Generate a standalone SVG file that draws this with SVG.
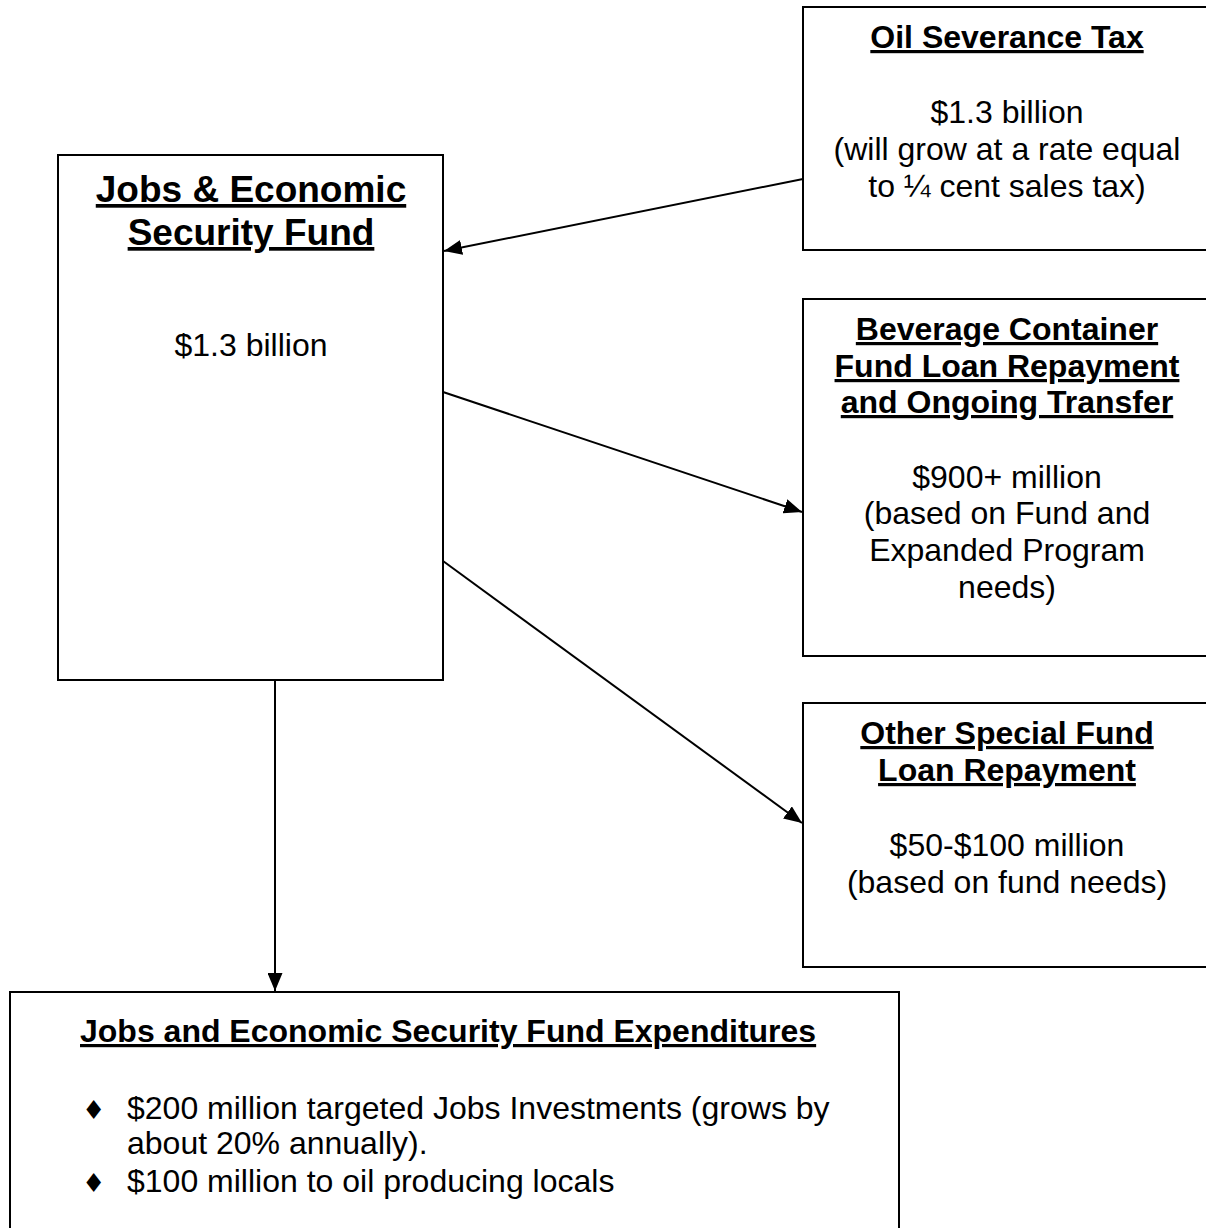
<svg xmlns="http://www.w3.org/2000/svg" width="1206" height="1228" viewBox="0 0 1206 1228">
<defs>
<style>
.box{fill:#fff;stroke:#000;stroke-width:2}
.t{font-family:"Liberation Sans",Arial,sans-serif;font-size:32px;fill:#000;text-anchor:middle}
.h{font-weight:bold;text-decoration:underline}
.big{font-size:37px}
.l{text-anchor:start}
.conn{stroke:#000;stroke-width:2;fill:none;marker-end:url(#arr)}
.bul{font-family:"DejaVu Sans",sans-serif;font-size:26px;fill:#000}
</style>
<marker id="arr" markerUnits="userSpaceOnUse" markerWidth="19" markerHeight="15" refX="18" refY="7.5" orient="auto">
<path d="M0,0 L18,7.5 L0,15 z" fill="#000"/>
</marker>
</defs>
<rect width="1206" height="1228" fill="#fff"/>
<g id="oil">
<rect class="box" x="803" y="7" width="420" height="243"/>
<text class="t h" x="1007" y="48">Oil Severance Tax</text>
<text class="t" x="1007" y="123">$1.3 billion</text>
<text class="t" x="1007" y="160">(will grow at a rate equal</text>
<text class="t" x="1007" y="197">to ¼ cent sales tax)</text>
</g>
<g id="jobs">
<rect class="box" x="58" y="155" width="385" height="525"/>
<text class="t h big" x="251" y="202">Jobs &amp; Economic</text>
<text class="t h big" x="251" y="245">Security Fund</text>
<text class="t" x="251" y="356">$1.3 billion</text>
</g>
<g id="beverage">
<rect class="box" x="803" y="299" width="420" height="357"/>
<text class="t h" x="1007" y="340">Beverage Container</text>
<text class="t h" x="1007" y="377">Fund Loan Repayment</text>
<text class="t h" x="1007" y="413">and Ongoing Transfer</text>
<text class="t" x="1007" y="488">$900+ million</text>
<text class="t" x="1007" y="524">(based on Fund and</text>
<text class="t" x="1007" y="561">Expanded Program</text>
<text class="t" x="1007" y="598">needs)</text>
</g>
<g id="other">
<rect class="box" x="803" y="703" width="420" height="264"/>
<text class="t h" x="1007" y="744">Other Special Fund</text>
<text class="t h" x="1007" y="781">Loan Repayment</text>
<text class="t" x="1007" y="856">$50-$100 million</text>
<text class="t" x="1007" y="893">(based on fund needs)</text>
</g>
<g id="expenditures">
<rect class="box" x="10" y="992" width="889" height="260"/>
<text class="t h l" x="80" y="1042">Jobs and Economic Security Fund Expenditures</text>
<text class="bul" x="82" y="1119">♦</text>
<text class="t l" x="127" y="1119">$200 million targeted Jobs Investments (grows by</text>
<text class="t l" x="127" y="1154">about 20% annually).</text>
<text class="bul" x="82" y="1192">♦</text>
<text class="t l" x="127" y="1192">$100 million to oil producing locals</text>
</g>
<g id="connectors">
<line class="conn" x1="803" y1="179" x2="444" y2="251"/>
<line class="conn" x1="443" y1="392" x2="802" y2="512"/>
<line class="conn" x1="443" y1="561" x2="802" y2="823"/>
<line class="conn" x1="275" y1="681" x2="275" y2="991"/>
</g>
</svg>
